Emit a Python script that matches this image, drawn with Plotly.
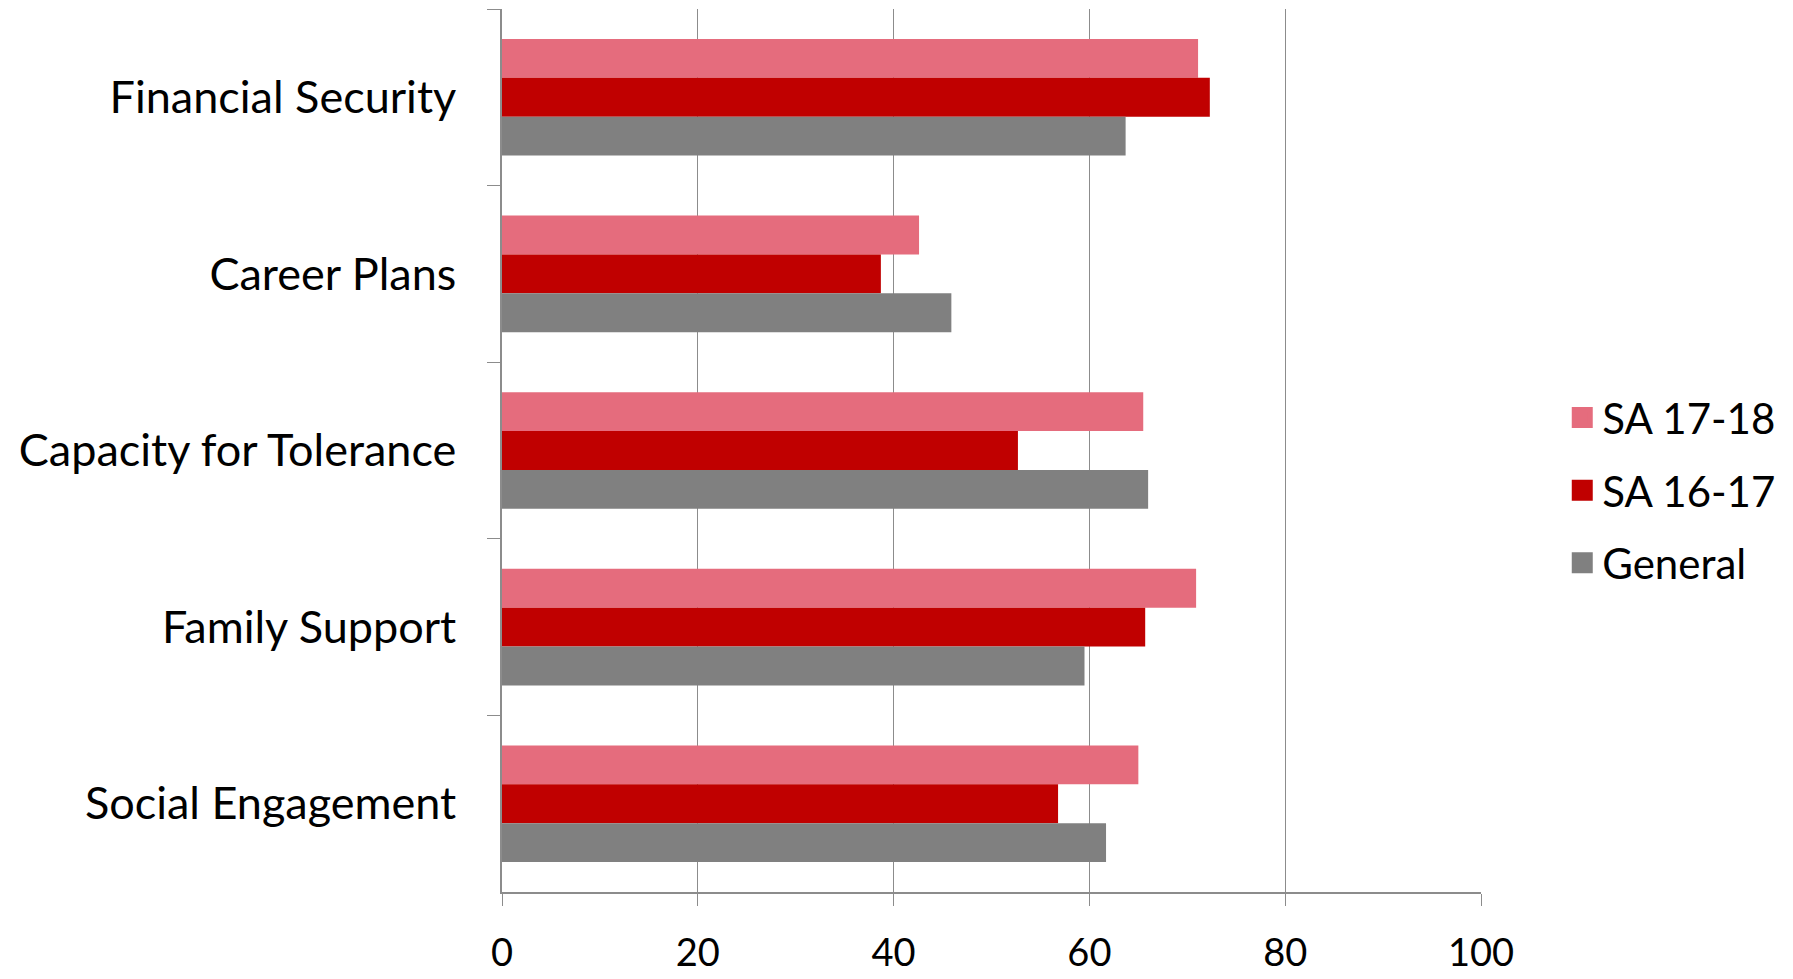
import plotly.graph_objects as go

categories = ["Financial Security", "Career Plans", "Capacity for Tolerance",
              "Family Support", "Social Engagement"]
sa_17_18 = [71.1, 42.6, 65.5, 70.9, 65.0]
sa_16_17 = [72.3, 38.7, 52.7, 65.7, 56.8]
general = [63.7, 45.9, 66.0, 59.5, 61.7]
series_names = ["SA 17-18", "SA 16-17", "General"]
series_colors = ["#E56C7D", "#C00000", "#808080"]
x_ticks = [0, 20, 40, 60, 80, 100]

FONT = "Lato"
fig = go.Figure()
for name, vals, col in zip(series_names, [sa_17_18, sa_16_17, general], series_colors):
    fig.add_trace(go.Bar(
        y=categories, x=vals, orientation="h", name=name,
        marker=dict(color=col, line=dict(width=0)),
        showlegend=False,
    ))
for i, (name, col) in enumerate(zip(series_names, series_colors)):
    fig.add_trace(go.Scatter(
        x=[None], y=[None], mode="markers", name=name,
        legendgroup=f"g{i}",
        marker=dict(symbol="square", size=16, color=col, line=dict(color=col, width=5)),
    ))

fig.update_layout(
    width=1785, height=971,
    margin=dict(l=494, r=312, t=1, b=87),
    paper_bgcolor="white", plot_bgcolor="white",
    barmode="group", bargap=0.34, bargroupgap=0,
    font=dict(family=FONT, size=40, color="black"),
    showlegend=True,
    legend=dict(
        x=1.083, xanchor="left", y=0.455, yanchor="middle",
        font=dict(family=FONT, size=42, color="black"),
        tracegroupgap=15, itemwidth=30,
        bgcolor="rgba(0,0,0,0)",
    ),
    xaxis=dict(
        range=[0, 100], tickvals=x_ticks, ticktext=[str(v) for v in x_ticks],
        showgrid=True, gridcolor="#8C8C8C", gridwidth=1,
        showline=True, linecolor="#8C8C8C", linewidth=1.5,
        ticks="outside", ticklen=12, tickcolor="#8C8C8C", tickwidth=1,
        ticklabelstandoff=15, zeroline=False, automargin=False,
        tickfont=dict(family=FONT, size=38, color="black"),
    ),
    yaxis=dict(
        categoryorder="array", categoryarray=categories, autorange="reversed",
        showline=True, linecolor="#8C8C8C", linewidth=1.5,
        ticks="outside", ticklen=13, tickcolor="#8C8C8C", tickwidth=1,
        tickson="boundaries", showgrid=False, zeroline=False, automargin=False,
        ticklabelstandoff=35,
        tickfont=dict(family=FONT, size=45, color="black"),
    ),
)
fig.write_html("out.html")
